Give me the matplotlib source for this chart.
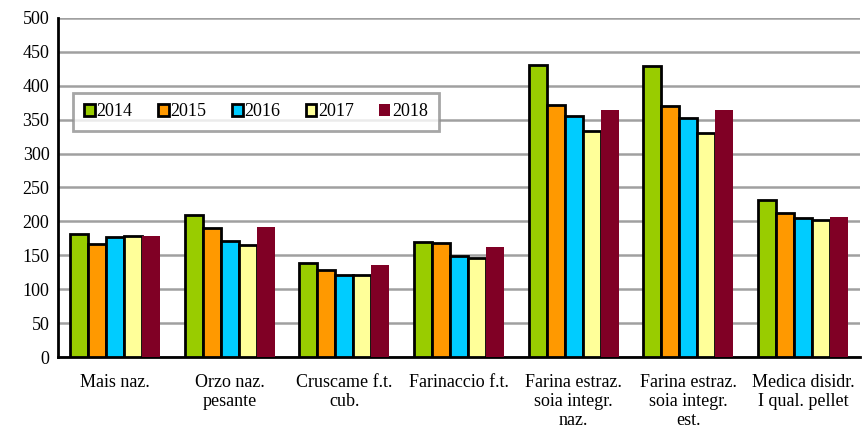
import numpy as np
import matplotlib.pyplot as plt

plt.rcParams['font.family'] = ['Liberation Serif', 'DejaVu Serif']

categories = ['Mais naz.', 'Orzo naz.\npesante', 'Cruscame f.t.\ncub.', 'Farinaccio f.t.',
              'Farina estraz.\nsoia integr.\nnaz.', 'Farina estraz.\nsoia integr.\nest.',
              'Medica disidr.\nI qual. pellet']
years = ['2014', '2015', '2016', '2017', '2018']
v2014 = [182, 210, 138, 169, 431, 429, 232]
v2015 = [167, 191, 128, 168, 372, 370, 213]
v2016 = [177, 171, 121, 149, 355, 353, 205]
v2017 = [179, 165, 121, 146, 333, 331, 202]
v2018 = [179, 192, 135, 163, 364, 364, 206]
colors = ['#99cc00', '#ff9900', '#00ccff', '#ffff99', '#800025']

series = [v2014, v2015, v2016, v2017, v2018]

fig = plt.figure(figsize=(8.63, 4.36), dpi=100)
ax = fig.add_axes([0.067, 0.181, 0.93, 0.778])

x = np.arange(len(categories))
w = 0.157
for i, (vals, c, yr) in enumerate(zip(series, colors, years)):
    pos = x + (i - 2) * w
    if yr == '2018':
        ax.bar(pos, vals, w, color=c, label=yr, zorder=3)
    else:
        ax.bar(pos, vals, w, color=c, edgecolor='black', linewidth=2, label=yr, zorder=3)

ax.set_ylim(0, 500)
ax.set_xlim(-0.5, len(categories) - 0.5)
ax.set_yticks(np.arange(0, 501, 50))
ax.yaxis.grid(True, color='#a0a0a0', linewidth=1.8, zorder=0)
ax.set_axisbelow(True)
ax.set_xticks(x)
ax.set_xticklabels(categories, fontsize=13, linespacing=1.15)
ax.tick_params(axis='y', labelsize=13, length=0, pad=6)
ax.tick_params(axis='x', length=0, pad=12)

for s in ['top', 'right']:
    ax.spines[s].set_visible(False)
ax.spines['left'].set_linewidth(2)
ax.spines['bottom'].set_linewidth(2)

leg = ax.legend(ncol=5, loc='upper left', bbox_to_anchor=(0.019, 0.78), fontsize=13,
                frameon=True, fancybox=False, handlelength=0.6, handleheight=0.6,
                handletextpad=0.1, columnspacing=1.4, borderpad=0.6, borderaxespad=0)
leg.get_frame().set_edgecolor('#909090')
leg.get_frame().set_linewidth(2)

fig.savefig('out.png', dpi=100)
